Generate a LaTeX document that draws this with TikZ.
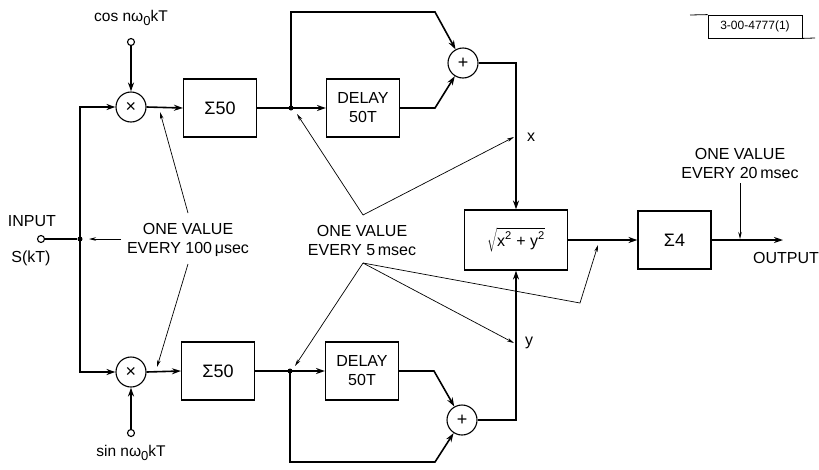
\documentclass[tikz,border=0pt]{standalone}
\usepackage{fontspec}
\setmainfont{Liberation Sans}
\usetikzlibrary{arrows.meta}
\begin{document}
\begin{tikzpicture}[x=1pt,y=-1pt,
  wire/.style={line width=1.6pt},
  warr/.style={wire,-{Stealth[length=9pt,width=6pt]}},
  parr/.style={line width=0.7pt,-{Stealth[length=7pt,width=3.5pt]}},
  pline/.style={line width=0.7pt},
  blk/.style={draw,line width=1.1pt,minimum width=73pt,minimum height=58pt,inner sep=0pt,font=\fontsize{18}{20}\selectfont,align=center},
  opc/.style={draw,circle,line width=1.1pt,minimum size=30pt,inner sep=0pt,font=\fontsize{18}{18}\selectfont},
  term/.style={draw,circle,line width=1.1pt,minimum size=7pt,inner sep=0pt,fill=white},
  dotj/.style={circle,fill,minimum size=5pt,inner sep=0pt},
  lbl/.style={font=\fontsize{16}{19}\selectfont,align=center,inner sep=1pt},
  slbl/.style={font=\fontsize{15.5}{17}\selectfont,align=center,inner sep=1pt}]
\useasboundingbox (0,0) rectangle (819,469);

% blocks
\node[opc] (m1) at (131,107) {×};
\node[opc] (m2) at (131,372) {×};
\node[term] (ci) at (131,42) {};
\node[term] (si) at (131,433) {};
\node[slbl] (cl) at (131,18) {cos nω\raisebox{-0.55ex}{\fontsize{13}{13}\selectfont 0}kT};
\node[slbl] (sl) at (131,453) {sin nω\raisebox{-0.55ex}{\fontsize{13}{13}\selectfont 0}kT};
\node[blk] (s1) at (220,108) {Σ50};
\node[blk] (s2) at (218,371) {Σ50};
\node[dotj] (j1) at (291,108) {};
\node[dotj] (j2) at (290,371) {};
\node[blk,font=\fontsize{16}{19}\selectfont] (d1) at (363,108) {DELAY\\50T};
\node[blk,font=\fontsize{16}{19}\selectfont] (d2) at (362,371) {DELAY\\50T};
\node[opc] (p1) at (463,63) {+};
\node[opc] (p2) at (462,420) {+};
\node[blk,minimum width=103pt,minimum height=60pt,font=\fontsize{16}{18}\selectfont] (sq) at (516,240) {$\sqrt{\mbox{x\textsuperscript{2} + y\textsuperscript{2}}}$};
\node[blk] (s4) at (674.5,240) {Σ4};
\coordinate (out) at (783,240);
\node[term] (inp) at (41,239) {};
\node[dotj] (jin) at (80,239) {};
\node[lbl] (il) at (32,221) {INPUT};
\node[lbl] (sk) at (31,258) {S(kT)};
\node[lbl] (ol) at (786,258) {OUTPUT};
\node[lbl] (xl) at (531,137) {x};
\node[lbl] (yl) at (529,343) {y};

% main wiring
\draw[wire] (inp) -- (jin);
\draw[warr] (jin.center) |- (m1.west);
\draw[warr] (jin.center) |- (m2.west);
\draw[warr] (ci) -- (m1.north);
\draw[warr] (si) -- (m2.south);
\draw[warr] (m1.east) -- (s1.west);
\draw[warr] (m2.east) -- (s2.west);
\draw[wire] (s1.east) -- (j1.center);
\draw[wire] (s2.east) -- (j2.center);
\draw[warr] (j1.center) -- (d1.west);
\draw[warr] (j2.center) -- (d2.west);
\coordinate (t1) at (291,12);
\coordinate (t2) at (435,12);
\coordinate (b1) at (290,462);
\coordinate (b2) at (435,462);
\coordinate (k1) at (435,108);
\coordinate (k2) at (434,371);
\draw[warr] (j1.center) -- (t1) -- (t2) -- (p1);
\draw[warr] (j2.center) -- (b1) -- (b2) -- (p2);
\draw[warr] (d1.east) -- (k1) -- (p1);
\draw[warr] (d2.east) -- (k2) -- (p2);
\draw[warr] (p1.east) -| (sq.north);
\draw[warr] (p2.east) -| (sq.south);
\draw[warr] (sq.east) -- (s4.west);
\draw[warr] (s4.east) -- (out);

% annotations
\node[lbl] (n100) at (188,240) {ONE VALUE\\EVERY 100\,μsec};
\node[lbl] (n5) at (362,240) {ONE VALUE\\EVERY 5\,msec};
\node[lbl] (n20) at (740,163) {ONE VALUE\\EVERY 20\,msec};
\coordinate (a0) at (121,239);
\coordinate (a1) at (89,239);
\coordinate (a2) at (188,213);
\coordinate (a3) at (160,112);
\coordinate (a4) at (188,264);
\coordinate (a5) at (157,367);
\draw[parr] (a0) -- (a1);
\draw[parr] (a2) -- (a3);
\draw[parr] (a4) -- (a5);
\coordinate (v1) at (363,215);
\coordinate (v2) at (363,263);
\coordinate (e1) at (297,114);
\coordinate (e2) at (514,137);
\coordinate (e3) at (295,366);
\coordinate (e4) at (514,343);
\coordinate (e5) at (580,303);
\coordinate (e6) at (598,245);
\draw[parr] (v1) -- (e1);
\draw[parr] (v1) -- (e2);
\draw[parr] (v2) -- (e3);
\draw[parr] (v2) -- (e4);
\draw[parr] (v2) -- (e5) -- (e6);
\coordinate (f1) at (740,183);
\coordinate (f2) at (740,239);
\draw[parr] (f1) -- (f2);

% drawing number
\node[draw,line width=0.8pt,minimum width=94pt,minimum height=23pt,inner sep=0pt,font=\fontsize{12}{13}\selectfont] (ref) at (755,26.5) {3-00-4777(1)};
\coordinate (r1) at (690,15);
\coordinate (r2) at (815,38);
\draw[line width=0.8pt] (r1) -- (ref.north west);
\draw[line width=0.8pt] (ref.south east) -- (r2);
\end{tikzpicture}
\end{document}
